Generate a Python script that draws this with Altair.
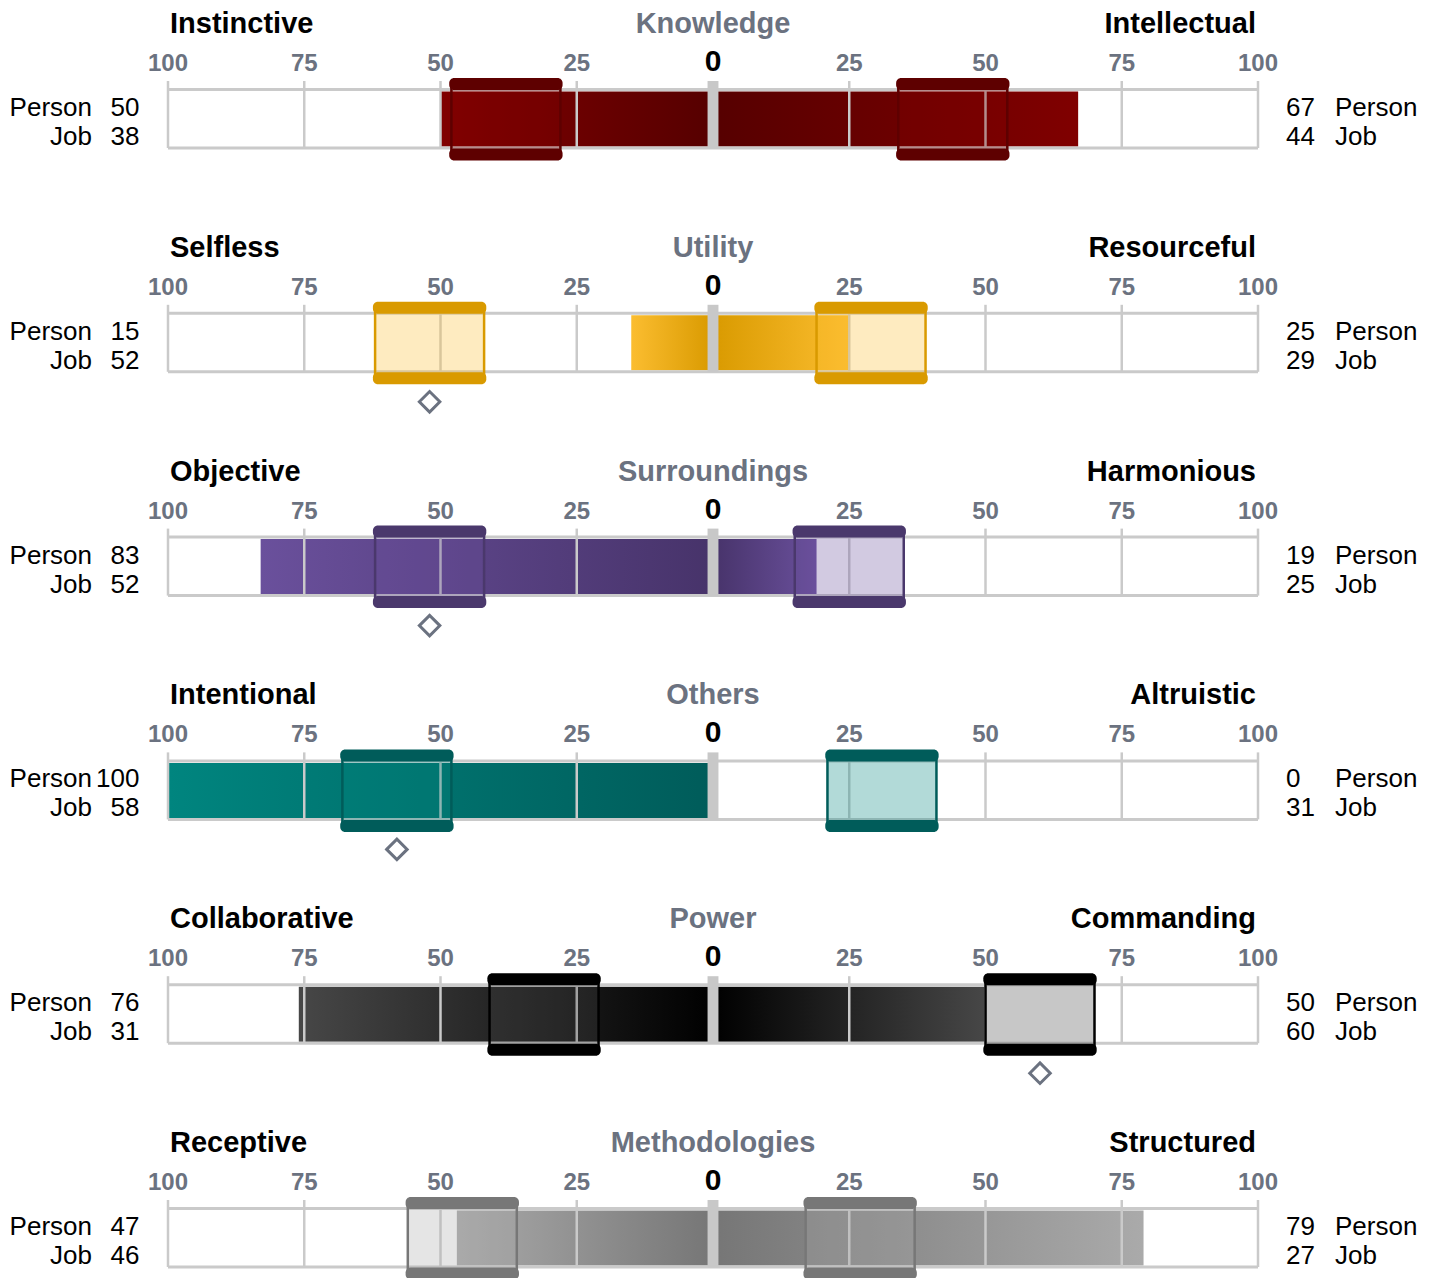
import altair as alt
import pandas as pd

# ---------------- data ----------------
categories = ["Knowledge", "Utility", "Surroundings", "Others", "Power", "Methodologies"]
left_labels = ["Instinctive", "Selfless", "Objective", "Intentional", "Collaborative", "Receptive"]
right_labels = ["Intellectual", "Resourceful", "Harmonious", "Altruistic", "Commanding", "Structured"]
person_left = [50, 15, 83, 100, 76, 47]
person_right = [67, 25, 19, 0, 50, 79]
job_left = [38, 52, 52, 58, 31, 46]
job_right = [44, 29, 25, 31, 60, 27]
tick_values = [-100, -75, -50, -25, 0, 25, 50, 75, 100]
row_labels = ["Person", "Job"]

# ---------------- styles ----------------
center_colors = ["#560000", "#d99a00", "#47336a", "#005c5a", "#000000", "#767676"]
end_colors = ["#800000", "#fbbd30", "#6a509c", "#00857f", "#474747", "#aaaaaa"]
border_colors = ["#5e0000", "#d99a00", "#4a386c", "#005c5a", "#000000", "#777777"]
GRAY = "#6b7280"
TRACK = "#cacaca"
FONT = "Liberation Sans"
PANEL_H = 223.8
JOB_HALF = 10

xs = alt.Scale(domain=[-100, 100], nice=False, zero=False)
ys = alt.Scale(domain=[0, 6], range=[0, 6 * PANEL_H], nice=False, zero=False)

n = len(categories)
panels = pd.DataFrame({
    "panel": list(range(n)),
    "category": categories,
    "left": left_labels,
    "right": right_labels,
    "xl": [-100] * n,
    "xr": [100] * n,
    "x0": [0] * n,
})

rows = []
for i in range(n):
    for sign, p, j in ((-1, person_left[i], job_left[i]), (1, person_right[i], job_right[i])):
        rows.append({
            "panel": i, "sign": sign, "person": p, "job": j,
            "pos": sign * p, "origin": 0,
            "job_pos": sign * j,
            "job_lo": sign * j - JOB_HALF, "job_hi": sign * j + JOB_HALF,
            "cap_lo": sign * j - JOB_HALF - 0.4, "cap_hi": sign * j + JOB_HALF + 0.4,
            "fill": end_colors[i], "border": border_colors[i],
        })
sides = pd.DataFrame(rows)

ticks = pd.DataFrame([{"panel": i, "t": t, "label": str(abs(t))} for i in range(n) for t in tick_values])

Y = alt.Y("panel:Q", scale=ys, axis=None)
Y2 = alt.Y2("panel:Q")

layers = []

# person bars with gradients
for _, r in sides.iterrows():
    i = int(r["panel"])
    if r["sign"] < 0:
        stops = [alt.GradientStop(color=end_colors[i], offset=0), alt.GradientStop(color=center_colors[i], offset=1)]
    else:
        stops = [alt.GradientStop(color=center_colors[i], offset=0), alt.GradientStop(color=end_colors[i], offset=1)]
    g = alt.Gradient(gradient="linear", stops=stops, x1=0, x2=1, y1=0, y2=0)
    layers.append(
        alt.Chart(pd.DataFrame([r.to_dict()])).mark_rect(color=g, yOffset=83.5, y2Offset=138.5).encode(
            x=alt.X("pos:Q", scale=xs, axis=None), x2="origin:Q", y=Y, y2=Y2
        )
    )

# gridlines / ticks
grid = ticks[ticks["t"] != 0]
layers.append(
    alt.Chart(grid).mark_rule(color=TRACK, strokeWidth=2.5, yOffset=73, y2Offset=140).encode(
        x=alt.X("t:Q", scale=xs, axis=None), y=Y, y2=Y2
    )
)
# track top / bottom lines
for off in (81.5, 140):
    layers.append(
        alt.Chart(panels).mark_rule(color=TRACK, strokeWidth=3, yOffset=off).encode(
            x=alt.X("xl:Q", scale=xs, axis=None), x2="xr:Q", y=Y
        )
    )
# center bar at 0
panels_c = panels.assign(cl=-1, cr=1)
layers.append(
    alt.Chart(panels_c).mark_rect(color="#c8c8c8", yOffset=73, y2Offset=140.5).encode(
        x=alt.X("cl:Q", scale=xs, axis=None), x2="cr:Q", y=Y, y2=Y2
    )
)
# job box body
layers.append(
    alt.Chart(sides).mark_rect(fillOpacity=0.3, strokeWidth=2.5, yOffset=76, y2Offset=146).encode(
        x=alt.X("job_lo:Q", scale=xs, axis=None), x2="job_hi:Q", y=Y, y2=Y2,
        fill=alt.Fill("fill:N", scale=None), stroke=alt.Stroke("border:N", scale=None)
    )
)
# job box caps
for a, b in ((70, 82), (140.5, 152.5)):
    layers.append(
        alt.Chart(sides).mark_rect(cornerRadius=5, yOffset=a, y2Offset=b).encode(
            x=alt.X("cap_lo:Q", scale=xs, axis=None), x2="cap_hi:Q", y=Y, y2=Y2,
            fill=alt.Fill("border:N", scale=None)
        )
    )
# diamonds under job boxes at 50 or more
layers.append(
    alt.Chart(sides[sides["job"] >= 50]).mark_point(
        shape="diamond", size=420, filled=False, strokeWidth=3, color=GRAY, opacity=1, yOffset=170
    ).encode(x=alt.X("job_pos:Q", scale=xs, axis=None), y=Y)
)

# tick labels
layers.append(
    alt.Chart(ticks[ticks["t"] != 0]).mark_text(
        font=FONT, fontSize=24, fontWeight="bold", color=GRAY, baseline="alphabetic", yOffset=63
    ).encode(x=alt.X("t:Q", scale=xs, axis=None), y=Y, text="label:N")
)
layers.append(
    alt.Chart(ticks[ticks["t"] == 0]).mark_text(
        font=FONT, fontSize=30, fontWeight="bold", color="#000000", baseline="alphabetic", yOffset=63
    ).encode(x=alt.X("t:Q", scale=xs, axis=None), y=Y, text="label:N")
)

# titles
layers.append(
    alt.Chart(panels).mark_text(font=FONT, fontSize=29, fontWeight="bold", color="#000000",
                                align="left", baseline="alphabetic", xOffset=2, yOffset=25)
    .encode(x=alt.X("xl:Q", scale=xs, axis=None), y=Y, text="left:N")
)
layers.append(
    alt.Chart(panels).mark_text(font=FONT, fontSize=29, fontWeight="bold", color=GRAY,
                                align="center", baseline="alphabetic", yOffset=25)
    .encode(x=alt.X("x0:Q", scale=xs, axis=None), y=Y, text="category:N")
)
layers.append(
    alt.Chart(panels).mark_text(font=FONT, fontSize=29, fontWeight="bold", color="#000000",
                                align="right", baseline="alphabetic", xOffset=-2, yOffset=25)
    .encode(x=alt.X("xr:Q", scale=xs, axis=None), y=Y, text="right:N")
)

# side labels and values
vals = panels.assign(pl=person_left, pr=person_right, jl=job_left, jr=job_right)
for label, yoff, lf, rf in ((row_labels[0], 108, "pl", "pr"), (row_labels[1], 137, "jl", "jr")):
    v = vals.assign(lab=label)
    layers.append(
        alt.Chart(v).mark_text(font=FONT, fontSize=26, color="#000000", align="right",
                               baseline="alphabetic", xOffset=-76, yOffset=yoff)
        .encode(x=alt.X("xl:Q", scale=xs, axis=None), y=Y, text="lab:N")
    )
    layers.append(
        alt.Chart(v).mark_text(font=FONT, fontSize=26, color="#000000", align="right",
                               baseline="alphabetic", xOffset=-28.5, yOffset=yoff)
        .encode(x=alt.X("xl:Q", scale=xs, axis=None), y=Y, text=alt.Text(f"{lf}:Q"))
    )
    layers.append(
        alt.Chart(v).mark_text(font=FONT, fontSize=26, color="#000000", align="left",
                               baseline="alphabetic", xOffset=28, yOffset=yoff)
        .encode(x=alt.X("xr:Q", scale=xs, axis=None), y=Y, text=alt.Text(f"{rf}:Q"))
    )
    layers.append(
        alt.Chart(v).mark_text(font=FONT, fontSize=26, color="#000000", align="left",
                               baseline="alphabetic", xOffset=77, yOffset=yoff)
        .encode(x=alt.X("xr:Q", scale=xs, axis=None), y=Y, text="lab:N")
    )

chart = alt.layer(*layers).properties(
    width=1090,
    height=1270,
    autosize=alt.AutoSizeParams(type="none"),
    padding={"left": 160, "top": 0, "right": 170, "bottom": 0},
).configure_view(stroke=None)

chart.save("out.html", embed_options={"renderer": "svg", "actions": False})
